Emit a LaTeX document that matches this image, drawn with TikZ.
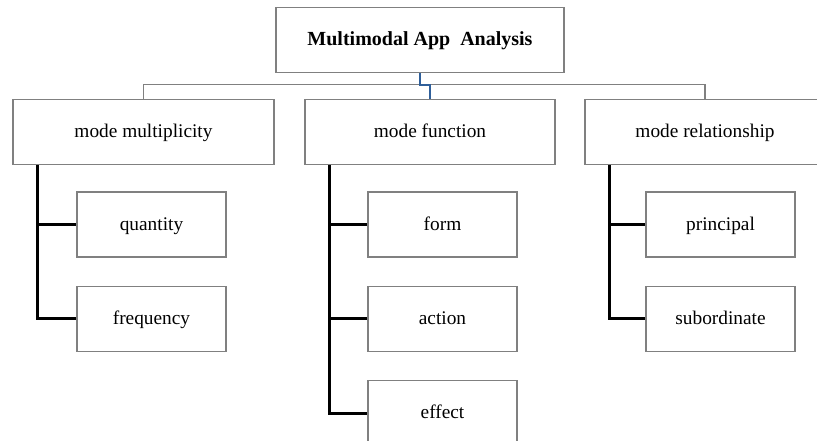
\documentclass[tikz,border=0pt]{standalone}
\usepackage{fontspec}
\setmainfont{Liberation Serif}
\usetikzlibrary{positioning}

\begin{document}
\begin{tikzpicture}[
    x=0.75pt, y=-0.75pt,
box/.style  = {draw=gray, line width=1pt, minimum height=48.75pt, align=center,
               text height=2ex, text depth=.2ex,
               font=\fontsize{14.5}{17}\selectfont},
leaf/.style = {box, minimum width=111.75pt},
bar/.style  = {draw=gray, line width=1pt},
trunk/.style = {draw=black, line width=2.2pt},
link/.style = {draw={rgb,255:red,47;green,95;blue,154}, line width=2pt}
                        ]
\clip (0,0) rectangle (817,441);
\node (top) [box, minimum width=216pt, font=\fontsize{15}{18}\selectfont\bfseries]
      at (420,40) {Multimodal App\ \ Analysis};
%
\node (mm) [box, minimum width=195.75pt] at (143.5,132) {mode multiplicity};
\node (mf) [box, minimum width=187.5pt]  at (430,132)   {mode function};
\node (mr) [box, minimum width=180pt]    at (705,132)   {mode relationship};
%
\node (quantity)    [leaf] at (151.5,224.5) {quantity};
\node (frequency)   [leaf, below=21pt of quantity] {frequency};
\node (form)        [leaf] at (442.5,224.5) {form};
\node (action)      [leaf, below=21pt of form]   {action};
\node (effect)      [leaf, below=21pt of action] {effect};
\node (principal)   [leaf] at (720.5,224.5) {principal};
\node (subordinate) [leaf, below=21pt of principal] {subordinate};
%
\draw[bar]  (mm.north) -- ++(0,-14) -| (mr.north);
\draw[link] (top.south) -- ++(0,12) -| (mf.north);
%
\draw[trunk] (mm.south west) ++(25,0) |- (frequency.west)
             (mm.south west) ++(25,0) |- (quantity.west);
\draw[trunk] (mf.south west) ++(25,0) |- (effect.west)
             (mf.south west) ++(25,0) |- (action.west)
             (mf.south west) ++(25,0) |- (form.west);
\draw[trunk] (mr.south west) ++(25,0) |- (subordinate.west)
             (mr.south west) ++(25,0) |- (principal.west);
\end{tikzpicture}
\end{document}
